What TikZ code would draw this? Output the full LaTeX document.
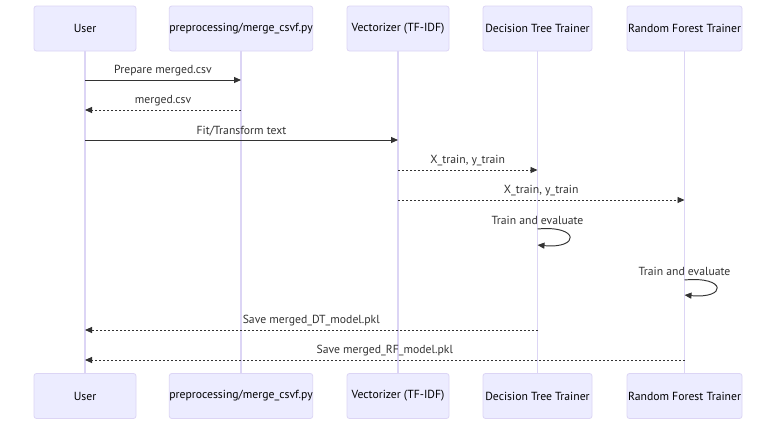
\documentclass[tikz,border=0pt]{standalone}
\usepackage{fontspec}
\setmainfont{PT Sans}
\usetikzlibrary{arrows.meta}
\definecolor{actfill}{HTML}{ECECFF}
\definecolor{actline}{HTML}{DCD5F5}
\definecolor{msg}{HTML}{333333}
\tikzset{
  x=1pt,y=-1pt,
  actor/.style={draw=actline,fill=actfill,line width=0.8pt,rounded corners=2.5pt,minimum height=45pt,inner sep=0pt,font=\fontsize{11.7}{13}\selectfont,text=black},
  life/.style={draw=actline,line width=1.4pt},
  msgsolid/.style={draw=msg,line width=0.95pt,-{Triangle[length=7pt,width=6pt]}},
  msgdash/.style={msgsolid,line width=0.9pt,dash pattern=on 2pt off 2pt},
  lbl/.style={font=\fontsize{11.7}{13}\selectfont,text=msg,inner sep=0pt}
}
\begin{document}
\begin{tikzpicture}
\useasboundingbox[fill=white] (0,0) rectangle (784,431);
% top actors
\node[actor,minimum width=102pt] (uT) at (85,28.5) {User};
\node[actor,minimum width=142pt] (pT) at (241,28.5) {preprocessing/merge\_csvf.py};
\node[actor,minimum width=102pt] (vT) at (398,28.5) {Vectorizer (TF-IDF)};
\node[actor,minimum width=109pt] (dT) at (537.5,28.5) {Decision Tree Trainer};
\node[actor,minimum width=115pt] (rT) at (684.5,28.5) {Random Forest Trainer};
% bottom actors
\node[actor,minimum width=102pt] (uB) at (85,396) {User};
\node[actor,minimum width=142pt] (pB) at (241,396) {preprocessing/merge\_csvf.py};
\node[actor,minimum width=102pt] (vB) at (398,396) {Vectorizer (TF-IDF)};
\node[actor,minimum width=109pt] (dB) at (537.5,396) {Decision Tree Trainer};
\node[actor,minimum width=115pt] (rB) at (684.5,396) {Random Forest Trainer};
% lifelines
\draw[life] (uT.south) -- (uB.north);
\draw[life] (pT.south) -- (pB.north);
\draw[life] (vT.south) -- (vB.north);
\draw[life] (dT.south) -- (dB.north);
\draw[life] (rT.south) -- (rB.north);
% message endpoints
\coordinate (m1a) at (85,80);   \coordinate (m1b) at (241,80);
\coordinate (m2a) at (241,110); \coordinate (m2b) at (85,110);
\coordinate (m3a) at (85,140);  \coordinate (m3b) at (398,140);
\coordinate (m4a) at (398,170); \coordinate (m4b) at (537.5,170);
\coordinate (m5a) at (398,200); \coordinate (m5b) at (684.5,200);
\coordinate (m6a) at (537.5,229); \coordinate (m6b) at (537.5,245);
\coordinate (m7a) at (684.5,280); \coordinate (m7b) at (684.5,295);
\coordinate (m8a) at (537.5,330); \coordinate (m8b) at (85,330);
\coordinate (m9a) at (684.5,360); \coordinate (m9b) at (85,360);
% messages
\draw[msgsolid] (m1a) -- node[lbl,above=3.5pt] (l1) {Prepare merged.csv} (m1b);
\draw[msgdash] (m2a) -- node[lbl,above=3.5pt] (l2) {merged.csv} (m2b);
\draw[msgsolid] (m3a) -- node[lbl,above=3.5pt] (l3) {Fit/Transform text} (m3b);
\draw[msgdash] (m4a) -- node[lbl,above=3.5pt] (l4) {X\_train, y\_train} (m4b);
\draw[msgdash] (m5a) -- node[lbl,above=3.5pt] (l5) {X\_train, y\_train} (m5b);
\node[lbl] (l6) at (537.5,220) {Train and evaluate};
\draw[msgsolid] (m6a) .. controls (580,225) and (580,249) .. (m6b);
\node[lbl] (l7) at (684.5,271) {Train and evaluate};
\draw[msgsolid] (m7a) .. controls (727,276) and (727,299) .. (m7b);
\draw[msgdash] (m8a) -- node[lbl,above=3.5pt] (l8) {Save merged\_DT\_model.pkl} (m8b);
\draw[msgdash] (m9a) -- node[lbl,above=3.5pt] (l9) {Save merged\_RF\_model.pkl} (m9b);
\end{tikzpicture}
\end{document}
